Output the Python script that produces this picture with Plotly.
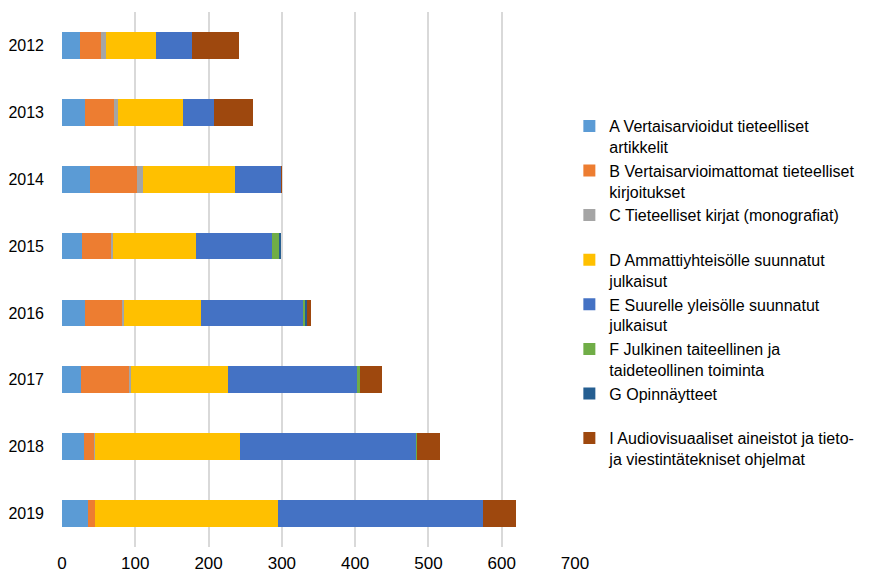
import plotly.graph_objects as go

years = ["2012", "2013", "2014", "2015", "2016", "2017", "2018", "2019"]

names = [
    "A Vertaisarvioidut tieteelliset<br>artikkelit",
    "B Vertaisarvioimattomat tieteelliset<br>kirjoitukset",
    "C Tieteelliset kirjat (monografiat)<br> ",
    "D Ammattiyhteisölle suunnatut<br>julkaisut",
    "E Suurelle yleisölle suunnatut<br>julkaisut",
    "F Julkinen taiteellinen ja<br>taideteollinen toiminta",
    "G Opinnäytteet<br> ",
    "I Audiovisuaaliset aineistot ja tieto-<br>ja viestintätekniset ohjelmat",
]

A = [24, 31, 38, 27, 31, 26, 30, 36]
B = [29, 40, 65, 41, 52, 66, 14, 9]
C = [7, 6, 7, 1, 1, 2, 1, 0]
D = [68, 88, 126, 114, 106, 132, 198, 250]
E = [49, 43, 63, 103, 140, 177, 241, 280]
F = [0, 0, 0, 10, 2, 3, 1, 0]
G = [0, 0, 0, 3, 2, 0, 0, 0]
I = [65, 52, 1, 0, 6, 30, 31, 44]

series = [A, B, C, D, E, F, G, I]
colors = ["#5B9BD5", "#ED7D31", "#A5A5A5", "#FFC000", "#4472C4", "#70AD47", "#255E91", "#9E480E"]

fig = go.Figure()
for name, vals, col in zip(names, series, colors):
    fig.add_trace(go.Bar(
        y=years, x=vals, name=name, orientation="h",
        marker=dict(color=col, line=dict(width=0)),
        width=0.4,
    ))

fig.update_layout(
    barmode="stack",
    width=889, height=576,
    margin=dict(l=54, r=321.5, t=4, b=37, autoexpand=False),
    plot_bgcolor="white", paper_bgcolor="white",
    font=dict(family="Liberation Sans, Arial, sans-serif", size=16, color="#000000"),
    xaxis=dict(range=[0, 700], dtick=100, showgrid=True, gridcolor="#D9D9D9", gridwidth=1.5,
               zeroline=False, showline=False, ticks="", tickfont=dict(size=17),
               ticklabelstandoff=4, automargin=False),
    yaxis=dict(autorange="reversed", showgrid=False, showline=False, ticks="",
               ticklabelstandoff=17, tickfont=dict(size=16), automargin=False),
    legend=dict(x=0.989, y=0.8187, xanchor="left", yanchor="top", valign="top",
                itemwidth=30, font=dict(size=16), traceorder="normal",
                bgcolor="rgba(0,0,0,0)"),
    showlegend=True,
)

fig.write_html("out.html")
